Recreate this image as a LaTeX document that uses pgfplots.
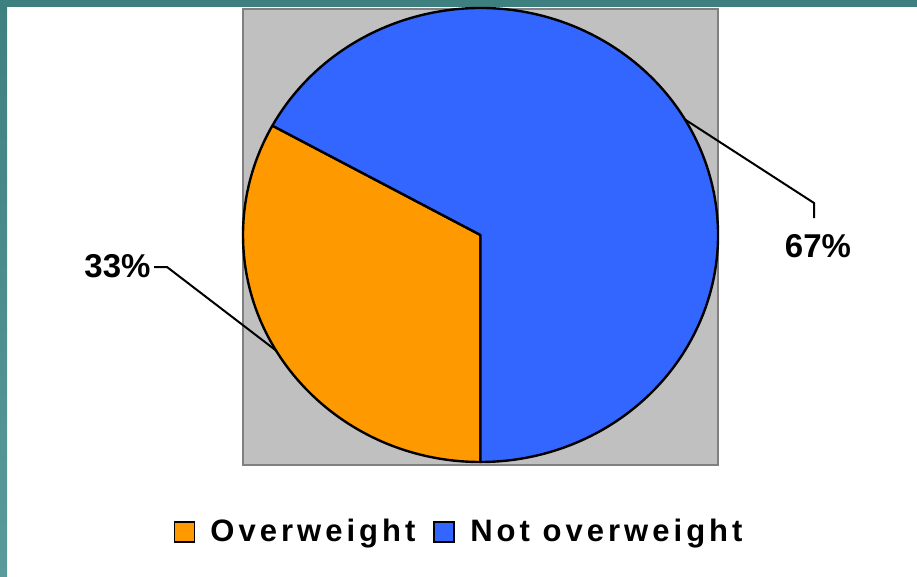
\documentclass[border=0pt]{standalone}
\usepackage{pgfplots}
\usepackage{pgfplotstable}
\pgfplotsset{compat=1.18}
\usepackage{fontspec}
\setmainfont{Liberation Sans}
\newfontfamily\legfont[LetterSpace=13]{Liberation Sans}

\definecolor{pieorange}{HTML}{FF9900}
\definecolor{pieblue}{HTML}{3366FF}
\definecolor{plotgray}{HTML}{C0C0C0}
\definecolor{framegray}{HTML}{808080}
\definecolor{tealtop}{HTML}{3E7F7F}
\definecolor{tealbot}{HTML}{5A9A9A}

% share of respondents in each group (per cent)
\pgfplotstableread{
group value
Overweight 33
NotOverweight 67
}\pietable

\begin{document}
\begin{tikzpicture}[x=0.5pt,y=-0.5pt]
  \pgfplotstablegetelem{0}{value}\of\pietable
  \let\valA\pgfplotsretval
  \pgfplotstablegetelem{1}{value}\of\pietable
  \let\valB\pgfplotsretval
  \pgfmathsetmacro\angA{-90-3.6*\valA}
  \pgfmathsetmacro\angB{\angA-3.6*\valB}

  % page and slide border
  \path[use as bounding box] (0,0) rectangle (917,577);
  \fill[white] (0,0) rectangle (917,577);
  \fill[tealtop] (0,0) rectangle (917,7);
  \shade[top color=tealtop,bottom color=tealbot] (0,0) rectangle (7,577);
  \coordinate (axSW) at (243,465);

  \begin{axis}[
    at={(axSW)}, anchor=south west,
    scale only axis,
    width=237.5pt, height=228pt,
    xmin=-1, xmax=1, ymin=-1.0132, ymax=0.9956,
    xtick=\empty, ytick=\empty,
    axis background/.style={fill=plotgray},
    axis line style={draw=framegray, line width=1pt},
    clip=false,
    legend columns=2,
    legend style={
      at={(0.457,-0.147)}, anchor=center,
      draw=none, fill=none,
      font=\legfont\bfseries\fontsize{15.5}{18}\selectfont,
      /tikz/every odd column/.append style={column sep=5.5pt},
      /tikz/every even column/.append style={column sep=7pt},
    },
    legend image code/.code={
      \draw[#1,line width=0.9pt] (0pt,-5pt) rectangle (10pt,5pt);
    },
  ]
    % slices, clockwise from the bottom
    \filldraw[fill=pieorange, draw=black, line width=1.2pt, line join=round]
      (axis cs:0,0) -- (axis cs:0,-1)
      arc[start angle=-90, end angle=\angA, x radius=118.75pt, y radius=113.5pt]
      -- cycle;
    \filldraw[fill=pieblue, draw=black, line width=1.2pt, line join=round]
      (axis cs:0,0) -- (axis cs:{cos(\angA)},{sin(\angA)})
      arc[start angle=\angA, end angle=\angB, x radius=118.75pt, y radius=113.5pt]
      -- cycle;

    % leader lines
    \addplot[forget plot, black, line width=1pt, mark=none]
      coordinates {(-0.8607,-0.5090) (-1.3200,-0.1410) (-1.3747,-0.1410)};
    \addplot[forget plot, black, line width=1pt, mark=none]
      coordinates {(0.8607,0.5090) (1.4042,0.1410) (1.4042,0.0749)};

    \node[anchor=base, font=\bfseries\fontsize{16.5}{19}\selectfont]
      at (axis cs:-1.5284,-0.1894) {\valA\%};
    \node[anchor=base, font=\bfseries\fontsize{16.5}{19}\selectfont]
      at (axis cs:1.4211,-0.1013) {\valB\%};

    \addlegendimage{fill=pieorange, draw=black}
    \addlegendentry{Overweight}
    \addlegendimage{fill=pieblue, draw=black}
    \addlegendentry{Not overweight}
  \end{axis}
\end{tikzpicture}
\end{document}
